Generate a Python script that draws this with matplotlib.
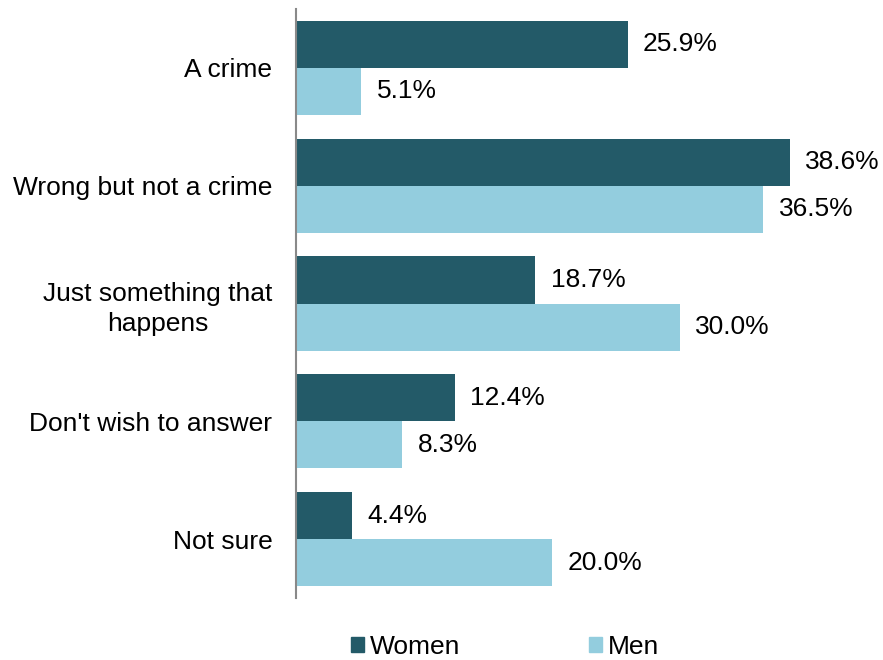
import matplotlib.pyplot as plt
import numpy as np
from matplotlib.patches import Patch

plt.rcParams['font.family'] = ['Liberation Sans', 'DejaVu Sans']

categorias = ['A crime', 'Wrong but not a crime', 'Just something that\nhappens',
              "Don't wish to answer", 'Not sure']
mulheres = [25.9, 38.6, 18.7, 12.4, 4.4]
homens = [5.1, 36.5, 30.0, 8.3, 20.0]

cor_mulheres = '#235A68'
cor_homens = '#93CDDE'
fs = 19

fig = plt.figure(figsize=(8.83, 6.6), dpi=100)
ax = fig.add_axes([296 / 883, 1 - 598 / 660, 1 - 296 / 883, 589 / 660])

y = np.arange(len(categorias))
altura = 0.4
ax.barh(y - altura / 2, mulheres, height=altura, color=cor_mulheres)
ax.barh(y + altura / 2, homens, height=altura, color=cor_homens)

for i in range(len(categorias)):
    ax.text(mulheres[i] + 1.2, y[i] - altura / 2, f'{mulheres[i]:.1f}%',
            va='center', ha='left', fontsize=fs)
    ax.text(homens[i] + 1.2, y[i] + altura / 2, f'{homens[i]:.1f}%',
            va='center', ha='left', fontsize=fs)

ax.set_ylim(len(categorias) - 0.5, -0.5)
ax.set_xlim(0, 587 / 12.8)
ax.set_yticks(y)
ax.set_yticklabels(categorias, fontsize=fs, multialignment='center', linespacing=1.3)
ax.tick_params(axis='y', length=0, pad=17)
ax.set_xticks([])
for lado in ['top', 'right', 'bottom']:
    ax.spines[lado].set_visible(False)
ax.spines['left'].set_color('#898989')
ax.spines['left'].set_linewidth(1.5)

handles = [Patch(color=cor_mulheres, label='Women'), Patch(color=cor_homens, label='Men')]
fig.legend(handles=handles, loc='center', bbox_to_anchor=(0.572, 1 - 647 / 660),
           ncol=2, frameon=False, fontsize=fs, handlelength=0.5, handleheight=0.5,
           handletextpad=0.2, columnspacing=4.9)

fig.savefig('out.png', dpi=100)
